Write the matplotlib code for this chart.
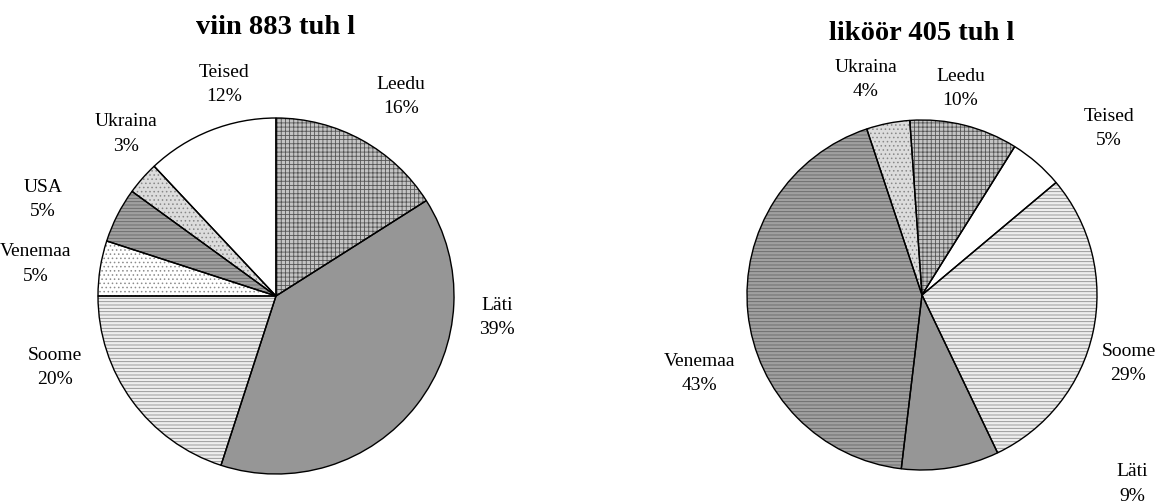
import matplotlib
matplotlib.use('Agg')
import matplotlib.pyplot as plt

plt.rcParams['font.family'] = ['Liberation Serif', 'DejaVu Serif']
plt.rcParams['hatch.linewidth'] = 0.6

# viin (wine) 883 thousand litres
viin_labels = ['Leedu', 'Läti', 'Soome', 'Venemaa', 'USA', 'Ukraina', 'Teised']
viin_pct = [16, 39, 20, 5, 5, 3, 12]
viin_title = 'viin 883 tuh l'

# liköör (liqueur) 405 thousand litres
likoor_labels = ['Leedu', 'Teised', 'Soome', 'Läti', 'Venemaa', 'Ukraina']
likoor_pct = [10, 5, 29, 9, 43, 4]
likoor_title = 'liköör 405 tuh l'

# fill style per country: (facecolor, hatch, hatch colour)
styles = {
    'Leedu':   ('#c4c4c4', '++++', '#555555'),
    'Läti':    ('#969696', None, '#969696'),
    'Soome':   ('#eeeeee', '-----', '#8e8e8e'),
    'Venemaa': ('#ffffff', '....', '#8c8c8c'),
    'USA':     ('#a0a0a0', '-----', '#666666'),
    'Ukraina': ('#dcdcdc', '....', '#888888'),
    'Teised':  ('#ffffff', None, '#ffffff'),
}
# Venemaa in liqueur chart uses the darker striped fill
likoor_styles = dict(styles)
likoor_styles['Venemaa'] = styles['USA']

# label centres, in units of the pie radius
viin_lbl_pos = {
    'Leedu': (0.70, 1.12), 'Läti': (1.24, -0.12), 'Soome': (-1.24, -0.40),
    'Venemaa': (-1.35, 0.18), 'USA': (-1.31, 0.54), 'Ukraina': (-0.84, 0.91),
    'Teised': (-0.29, 1.19),
}
likoor_lbl_pos = {
    'Ukraina': (-0.32, 1.23), 'Leedu': (0.22, 1.18), 'Teised': (1.07, 0.95),
    'Soome': (1.18, -0.39), 'Venemaa': (-1.27, -0.45), 'Läti': (1.20, -1.08),
}


def draw_pie(ax, labels, pct, sty, start, lblpos, title, title_y):
    fc = [sty[l][0] for l in labels]
    wedges, _ = ax.pie(pct, startangle=start, counterclock=False, colors=fc,
                       wedgeprops=dict(linewidth=0, edgecolor='none'))
    for w, l in zip(wedges, labels):
        if sty[l][1]:
            w.set_hatch(sty[l][1])
            w.set_edgecolor(sty[l][2])
            w.set_linewidth(0)
    # black outlines on top
    ax.pie(pct, startangle=start, counterclock=False,
           wedgeprops=dict(fill=False, linewidth=1.0, edgecolor='black'))
    for l, p in zip(labels, pct):
        x, y = lblpos[l]
        ax.text(x, y, f'{l}\n{p}%', ha='center', va='center', fontsize=14,
                linespacing=1.55)
    ax.text(0, title_y, title, ha='center', va='center', fontsize=20.5,
            fontweight='bold')
    ax.set_xlim(-1.55, 1.55)
    ax.set_ylim(-1.0, 1.55)
    ax.set_aspect('equal')
    ax.axis('off')


fig = plt.figure(figsize=(11.61, 5.01), dpi=100)
r = 178
W, H = 1161, 501
# left pie centred at (276, 296) px
axL = fig.add_axes([(276 - 1.55 * r) / W, (H - 296 - 1.0 * r) / H,
                    3.1 * r / W, 2.55 * r / H])
draw_pie(axL, viin_labels, viin_pct, styles, 90, viin_lbl_pos, viin_title, 1.51)

r2 = 175
axR = fig.add_axes([(922 - 1.55 * r2) / W, (H - 295 - 1.0 * r2) / H,
                    3.1 * r2 / W, 2.55 * r2 / H])
draw_pie(axR, likoor_labels, likoor_pct, likoor_styles, 94, likoor_lbl_pos,
         likoor_title, 1.495)

fig.savefig('out.png', dpi=100)
